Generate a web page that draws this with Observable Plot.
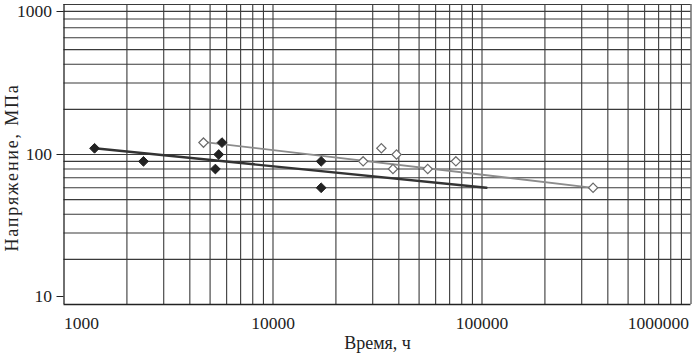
<!DOCTYPE html>
<html><head><meta charset="utf-8">
<script src="https://cdn.jsdelivr.net/npm/d3@7"></script>
<script src="https://cdn.jsdelivr.net/npm/@observablehq/plot@0.6"></script>
<style>body{margin:0;background:#fff} #chart{width:693px;height:357px}</style>
</head><body><div id="chart"></div>
<script>
// Data (time in hours, stress in MPa)
const filledTime = [1400, 2400, 5300, 5500, 5700, 17000, 17000];
const filledStress = [110, 90, 80, 100, 120, 90, 60];
const openTime = [4650, 27000, 33000, 37500, 39000, 55000, 75000, 340000];
const openStress = [120, 90, 110, 80, 100, 80, 90, 60];
const filledFitTime = [1400, 105000];
const filledFitStress = [110, 60];
const openFitTime = [4700, 340000];
const openFitStress = [121, 60];
const xTickLabels = [1000, 10000, 100000, 1000000];
const yTickLabels = [10, 100, 1000];
const xLabel = "Время, ч";
const yLabel = "Напряжение, МПа";

const xGrid = [];
for (const d of [1000, 10000, 100000]) for (let k = 1; k <= 9; k++) xGrid.push(d * k);
xGrid.push(1000000);
const yGrid = [];
for (const d of [10, 100]) for (let k = 1; k <= 9; k++) yGrid.push(d * k);
yGrid.push(1000);

const filled = filledTime.map((t, i) => ({t, s: filledStress[i]}));
const open = openTime.map((t, i) => ({t, s: openStress[i]}));
const filledFit = filledFitTime.map((t, i) => ({t, s: filledFitStress[i]}));
const openFit = openFitTime.map((t, i) => ({t, s: openFitStress[i]}));

const fmt = d => String(d);
const chart = Plot.plot({
  width: 693, height: 357,
  marginLeft: 63.5, marginRight: 2.5, marginTop: 4, marginBottom: 53,
  x: {type: "log", domain: [1000, 1000000]},
  y: {type: "log", domain: [10, 1000]},
  style: {fontFamily: "'Liberation Serif', 'DejaVu Serif', serif", fontSize: "17.5px", color: "#222", background: "#fff"},
  marks: [
    Plot.ruleX(xGrid.slice(1), {stroke: "#3a3a3a", strokeWidth: 1.1}),
    Plot.ruleY(yGrid.slice(1), {stroke: "#3a3a3a", strokeWidth: 1.1}),
    Plot.ruleX([1000], {stroke: "#222", strokeWidth: 1.3, y1: 10, y2: 1000}),
    Plot.ruleY([10], {stroke: "#222", strokeWidth: 1.3}),
    Plot.axisX(xTickLabels.slice(0, 1), {tickSize: 0, tickPadding: 12, textAnchor: "start", dx: 0, label: null, tickFormat: fmt}),
    Plot.axisX(xTickLabels.slice(1, 3), {tickSize: 0, tickPadding: 12, label: null, tickFormat: fmt}),
    Plot.axisX(xTickLabels.slice(3), {tickSize: 0, tickPadding: 12, textAnchor: "end", dx: -2, label: null, tickFormat: fmt}),
    Plot.axisY(yTickLabels.slice(0, 1), {tickSize: 7, tickPadding: 5, dy: -8, label: null, tickFormat: fmt, stroke: "#222"}),
    Plot.axisY(yTickLabels.slice(1, 2), {tickSize: 7, tickPadding: 5, label: null, tickFormat: fmt, stroke: "#222"}),
    Plot.axisY(yTickLabels.slice(2), {tickSize: 7, tickPadding: 5, dy: 7, label: null, tickFormat: fmt, stroke: "#222"}),
    Plot.line(openFit, {x: "t", y: "s", stroke: "#8c8c8c", strokeWidth: 1.8}),
    Plot.line(filledFit, {x: "t", y: "s", stroke: "#333", strokeWidth: 2.4}),
    Plot.dot(open, {x: "t", y: "s", symbol: "diamond2", r: 4.2, fill: "#fff", stroke: "#6a6a6a", strokeWidth: 1.2}),
    Plot.dot(filled, {x: "t", y: "s", symbol: "diamond2", r: 4.4, fill: "#222", stroke: "#222", strokeWidth: 1}),
    Plot.text([yLabel], {frameAnchor: "left", textAnchor: "middle", lineAnchor: "middle", rotate: -90, dx: -52, dy: 13, fontSize: 18, fill: "#222", style: "letter-spacing:1.8px"}),
    Plot.text([xLabel], {frameAnchor: "bottom", textAnchor: "middle", lineAnchor: "middle", dy: 39, fontSize: 18, fill: "#222"})
  ]
});
chart.querySelectorAll("text").forEach(t => { if (t.textContent === yLabel) t.style.letterSpacing = "1.8px"; });
document.getElementById("chart").append(chart);
</script>
</body></html>
